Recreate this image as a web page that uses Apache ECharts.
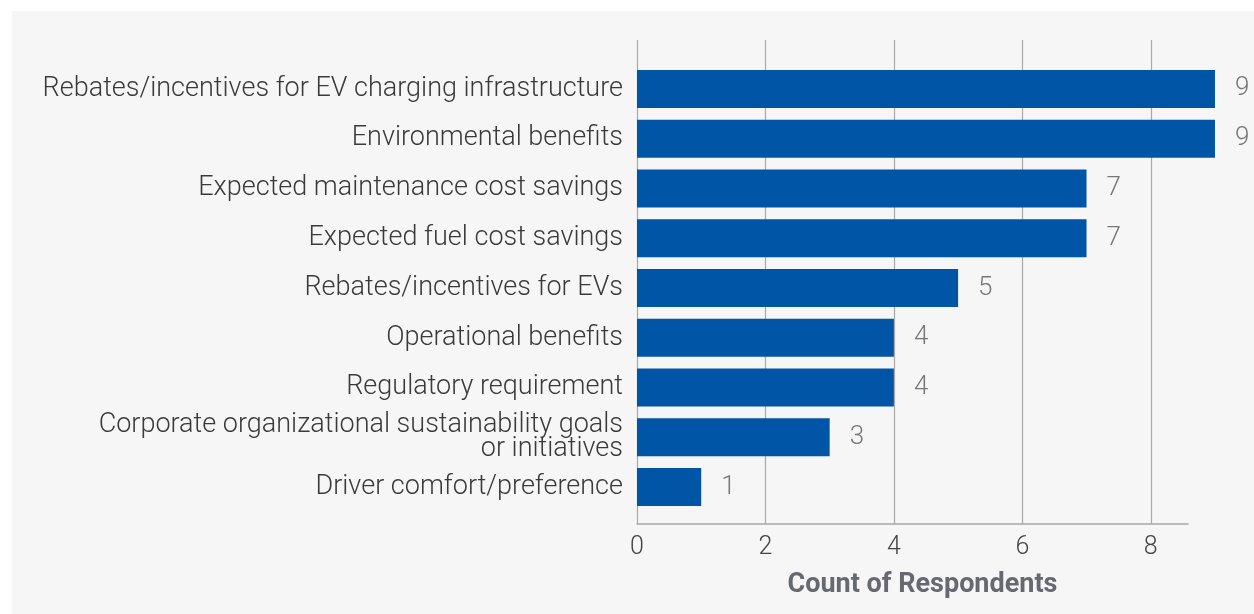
<!DOCTYPE html>
<html>
<head>
<meta charset="utf-8">
<script src="https://cdn.jsdelivr.net/npm/echarts@6/dist/echarts.min.js"></script>
<style>
  html, body { margin: 0; padding: 0; background: #ffffff; }
  .panel {
    position: absolute;
    left: 12px;
    top: 11px;
    right: 0;
    bottom: 0;
    background: #f6f6f6;
  }
  .chart {
    position: absolute;
    left: 0;
    top: 0;
    width: 1254px;
    height: 614px;
  }
</style>
</head>
<body>
<div class="panel"></div>
<div class="chart" id="chart"></div>
<script>
var categories = [
  "Rebates/incentives for EV charging infrastructure",
  "Environmental benefits",
  "Expected maintenance cost savings",
  "Expected fuel cost savings",
  "Rebates/incentives for EVs",
  "Operational benefits",
  "Regulatory requirement",
  "Corporate organizational sustainability goals\nor initiatives",
  "Driver comfort/preference",
];
var counts = [9, 9, 7, 7, 5, 4, 4, 3, 1];
var xTicks = [0, 2, 4, 6, 8];

var fontFamily = "Roboto, 'Noto Sans', sans-serif";
var xMax = 8.58;

var chart = echarts.init(document.getElementById("chart"), null, { renderer: "canvas" });
chart.setOption({
  animation: false,
  backgroundColor: "transparent",
  grid: [
    // frame: gridlines + x axis
    { left: 637, right: 66, top: 40, bottom: 90 },
    // bars
    { left: 637, right: 66, top: 64, height: 448 },
  ],
  xAxis: [
    {
      gridIndex: 0,
      type: "value",
      min: 0,
      max: xMax,
      interval: 2,
      axisLine: { show: true, lineStyle: { color: "#a8a8a8", width: 1.5 } },
      axisTick: { show: false },
      splitLine: {
        show: true,
        showMaxLine: false,
        lineStyle: { color: "#a8a8a8", width: 1.2 },
      },
      axisLabel: {
        showMaxLabel: false,
        margin: 11,
        fontSize: 25,
        fontWeight: 300,
        fontFamily: fontFamily,
        color: "#444",
        formatter: function (v) {
          return xTicks.indexOf(v) >= 0 ? String(v) : "";
        },
      },
      name: "Count of Respondents",
      nameLocation: "middle",
      nameGap: 48,
      nameTextStyle: {
        fontSize: 27,
        fontWeight: "bold",
        fontFamily: fontFamily,
        color: "#666a70",
        padding: [0, 0, 0, 20],
      },
    },
    {
      gridIndex: 1,
      type: "value",
      min: 0,
      max: xMax,
      show: false,
    },
  ],
  yAxis: [
    {
      gridIndex: 0,
      type: "value",
      show: false,
    },
    {
      gridIndex: 1,
      type: "category",
      inverse: true,
      data: categories,
      axisLine: { show: false },
      axisTick: { show: false },
      axisLabel: {
        margin: 14,
        fontSize: 27,
        fontWeight: 300,
        lineHeight: 24,
        padding: [4, 0, 0, 0],
        fontFamily: fontFamily,
        color: "#3a3a3a",
        align: "right",
      },
    },
  ],
  series: [
    {
      type: "bar",
      xAxisIndex: 1,
      yAxisIndex: 1,
      data: counts,
      barWidth: 38,
      clip: false,
      itemStyle: { color: "#0055a6" },
      label: {
        show: true,
        position: "right",
        distance: 20,
        fontSize: 26,
        fontWeight: 300,
        fontFamily: fontFamily,
        color: "#777",
      },
    },
  ],
});
</script>
</body>
</html>
